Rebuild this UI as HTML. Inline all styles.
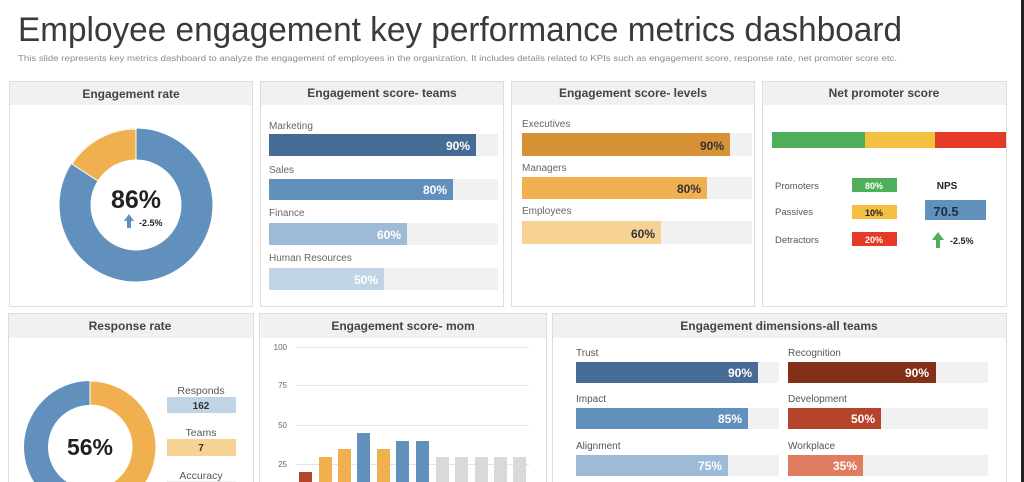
<!DOCTYPE html>
<html><head><meta charset="utf-8"><style>
html,body{margin:0;padding:0;background:#fff;width:1024px;height:482px;overflow:hidden}
svg{display:block;font-family:"Liberation Sans",sans-serif}
</style></head><body>
<svg width="1024" height="482" viewBox="0 0 1024 482" xmlns="http://www.w3.org/2000/svg">
<defs><clipPath id="c"><rect x="0" y="0" width="1024" height="482"/></clipPath></defs>
<rect width="1024" height="482" fill="#fff"/>
<rect x="1021" y="0" width="3" height="482" fill="#222"/>
<text x="18" y="41" font-size="34" fill="#3a3a3a" textLength="884" lengthAdjust="spacingAndGlyphs">Employee engagement key performance metrics dashboard</text>
<text x="18" y="61" font-size="8.5" fill="#8a8a8a" textLength="879" lengthAdjust="spacingAndGlyphs">This slide represents key metrics dashboard to analyze the engagement of employees in the organization. It includes details related to KPIs such as engagement score, response rate, net promoter score etc.</text>

<g fill="#fff" stroke="#ddd" stroke-width="1">
<rect x="9.5" y="81.5" width="243" height="225"/>
<rect x="260.5" y="81.5" width="243" height="225"/>
<rect x="511.5" y="81.5" width="243" height="225"/>
<rect x="762.5" y="81.5" width="244" height="225"/>
<path d="M8.5 482 V313.5 H253.5 V482"/>
<path d="M259.5 482 V313.5 H546.5 V482"/>
<path d="M552.5 482 V313.5 H1006.5 V482"/>
</g>
<g fill="#f1f1f1">
<rect x="10" y="82" width="242" height="23"/>
<rect x="261" y="82" width="242" height="23"/>
<rect x="512" y="82" width="242" height="23"/>
<rect x="763" y="82" width="243" height="23"/>
<rect x="9" y="314" width="244" height="24"/>
<rect x="260" y="314" width="286" height="24"/>
<rect x="553" y="314" width="453" height="24"/>
</g>
<g font-size="12" font-weight="bold" fill="#444" text-anchor="middle">
<text x="131" y="98">Engagement rate</text>
<text x="382" y="97">Engagement score- teams</text>
<text x="633" y="97">Engagement score- levels</text>
<text x="884" y="97">Net promoter score</text>
<text x="130" y="330">Response rate</text>
<text x="403" y="330">Engagement score- mom</text>
<text x="779" y="330">Engagement dimensions-all teams</text>
</g>

<circle cx="136" cy="205" r="61" fill="none" stroke="#6190bd" stroke-width="31"/>
<path d="M136 129 A76 76 0 0 0 72 164 L98 181 A45 45 0 0 1 136 160 Z" fill="#f0b050" stroke="#fff" stroke-width="1"/>
<text x="136" y="208" font-size="25" font-weight="bold" fill="#222" text-anchor="middle">86%</text>
<path d="M129 214 L124 221 L127 221 L127 228 L131 228 L131 221 L134 221 Z" fill="#6190bd"/>
<text x="139" y="226" font-size="9" font-weight="bold" fill="#222">-2.5%</text>

<g font-size="10" fill="#666">
<text x="269" y="129">Marketing</text><text x="269" y="173">Sales</text><text x="269" y="216">Finance</text><text x="269" y="261">Human Resources</text>
</g>
<g fill="#f1f1f1"><rect x="269" y="134" width="229" height="22"/><rect x="269" y="179" width="229" height="21"/><rect x="269" y="223" width="229" height="22"/><rect x="269" y="268" width="229" height="22"/></g>
<rect x="269" y="134" width="207" height="22" fill="#466b94"/>
<rect x="269" y="179" width="184" height="21" fill="#6190bd"/>
<rect x="269" y="223" width="138" height="22" fill="#9dbad6"/>
<rect x="269" y="268" width="115" height="22" fill="#c1d4e5"/>
<g font-size="12" font-weight="bold" fill="#fff" text-anchor="end">
<text x="470" y="150">90%</text><text x="447" y="194">80%</text><text x="401" y="239">60%</text><text x="378" y="284">50%</text>
</g>

<g font-size="10" fill="#666">
<text x="522" y="127">Executives</text><text x="522" y="171">Managers</text><text x="522" y="214">Employees</text>
</g>
<g fill="#f1f1f1"><rect x="522" y="133" width="230" height="23"/><rect x="522" y="177" width="230" height="22"/><rect x="522" y="221" width="230" height="23"/></g>
<rect x="522" y="133" width="208" height="23" fill="#d89236"/>
<rect x="522" y="177" width="185" height="22" fill="#f0b050"/>
<rect x="522" y="221" width="139" height="23" fill="#f6d394"/>
<g font-size="12" font-weight="bold" fill="#333" text-anchor="end">
<text x="724" y="150">90%</text><text x="701" y="193">80%</text><text x="655" y="238">60%</text>
</g>

<rect x="772" y="132" width="93" height="16" fill="#4fae5a"/>
<rect x="865" y="132" width="70" height="16" fill="#f4c040"/>
<rect x="935" y="132" width="71" height="16" fill="#e53a28"/>
<g font-size="9.5" fill="#555">
<text x="775" y="189">Promoters</text><text x="775" y="215">Passives</text><text x="775" y="243">Detractors</text>
</g>
<rect x="852" y="178" width="45" height="14" fill="#4fae5a"/>
<rect x="852" y="205" width="45" height="14" fill="#f4c040"/>
<rect x="852" y="232" width="45" height="14" fill="#e53a28"/>
<g font-size="9" font-weight="bold" text-anchor="middle">
<text x="874" y="189" fill="#fff">80%</text><text x="874" y="216" fill="#222">10%</text><text x="874" y="243" fill="#fff">20%</text>
</g>
<text x="947" y="189" font-size="10" font-weight="bold" fill="#222" text-anchor="middle">NPS</text>
<rect x="925" y="200" width="61" height="20" fill="#6190bd"/>
<text x="946" y="216" font-size="13" font-weight="bold" fill="#1c2f44" text-anchor="middle">70.5</text>
<path d="M938 232 L932 240 L936 240 L936 248 L940 248 L940 240 L944 240 Z" fill="#4fae5a"/>
<text x="950" y="244" font-size="9" font-weight="bold" fill="#222">-2.5%</text>

<g clip-path="url(#c)">
<circle cx="90" cy="447" r="54" fill="none" stroke="#6190bd" stroke-width="24"/>
<path d="M90 381 A66 66 0 0 1 90 513 L90 489 A42 42 0 0 0 90 405 Z" fill="#f0b050" stroke="#fff" stroke-width="1"/>
</g>
<text x="90" y="455" font-size="23" font-weight="bold" fill="#222" text-anchor="middle">56%</text>
<g font-size="10.5" fill="#555" text-anchor="middle">
<text x="201" y="394">Responds</text><text x="201" y="436">Teams</text><text x="201" y="479">Accuracy</text>
</g>
<rect x="167" y="397" width="69" height="16" fill="#c1d4e5"/>
<rect x="167" y="439" width="69" height="17" fill="#f6d394"/>
<rect x="167" y="481" width="69" height="1" fill="#eee"/>
<g font-size="10" font-weight="bold" fill="#333" text-anchor="middle"><text x="201" y="409">162</text><text x="201" y="451">7</text></g>

<g stroke="#e4e4e4" stroke-width="1">
<line x1="296" y1="347.5" x2="529" y2="347.5"/><line x1="296" y1="385.5" x2="529" y2="385.5"/><line x1="296" y1="425.5" x2="529" y2="425.5"/><line x1="296" y1="464.5" x2="529" y2="464.5"/>
</g>
<g font-size="8" fill="#666" text-anchor="end">
<text x="287" y="350">100</text><text x="287" y="388">75</text><text x="287" y="428">50</text><text x="287" y="467">25</text>
</g>
<g>
<rect x="299" y="472" width="13" height="10" fill="#b5432a"/>
<rect x="319" y="457" width="13" height="25" fill="#f0b050"/>
<rect x="338" y="449" width="13" height="33" fill="#f0b050"/>
<rect x="357" y="433" width="13" height="49" fill="#6190bd"/>
<rect x="377" y="449" width="13" height="33" fill="#f0b050"/>
<rect x="396" y="441" width="13" height="41" fill="#6190bd"/>
<rect x="416" y="441" width="13" height="41" fill="#6190bd"/>
<rect x="436" y="457" width="13" height="25" fill="#d9d9d9"/>
<rect x="455" y="457" width="13" height="25" fill="#d9d9d9"/>
<rect x="475" y="457" width="13" height="25" fill="#d9d9d9"/>
<rect x="494" y="457" width="13" height="25" fill="#d9d9d9"/>
<rect x="513" y="457" width="13" height="25" fill="#d9d9d9"/>
</g>

<g font-size="10" fill="#555">
<text x="576" y="356">Trust</text><text x="576" y="402">Impact</text><text x="576" y="449">Alignment</text>
<text x="788" y="356">Recognition</text><text x="788" y="402">Development</text><text x="788" y="449">Workplace</text>
</g>
<g fill="#f1f1f1">
<rect x="576" y="362" width="203" height="21"/><rect x="576" y="408" width="203" height="21"/><rect x="576" y="455" width="203" height="21"/>
<rect x="788" y="362" width="200" height="21"/><rect x="788" y="408" width="200" height="21"/><rect x="788" y="455" width="200" height="21"/>
</g>
<rect x="576" y="362" width="182" height="21" fill="#466b94"/>
<rect x="576" y="408" width="172" height="21" fill="#6190bd"/>
<rect x="576" y="455" width="152" height="21" fill="#9dbad6"/>
<rect x="788" y="362" width="148" height="21" fill="#843019"/>
<rect x="788" y="408" width="93" height="21" fill="#b5432a"/>
<rect x="788" y="455" width="75" height="21" fill="#e07c60"/>
<g font-size="12" font-weight="bold" fill="#fff" text-anchor="end">
<text x="752" y="377">90%</text><text x="742" y="423">85%</text><text x="722" y="470">75%</text>
<text x="929" y="377">90%</text><text x="875" y="423">50%</text><text x="857" y="470">35%</text>
</g>
</svg>
</body></html>
